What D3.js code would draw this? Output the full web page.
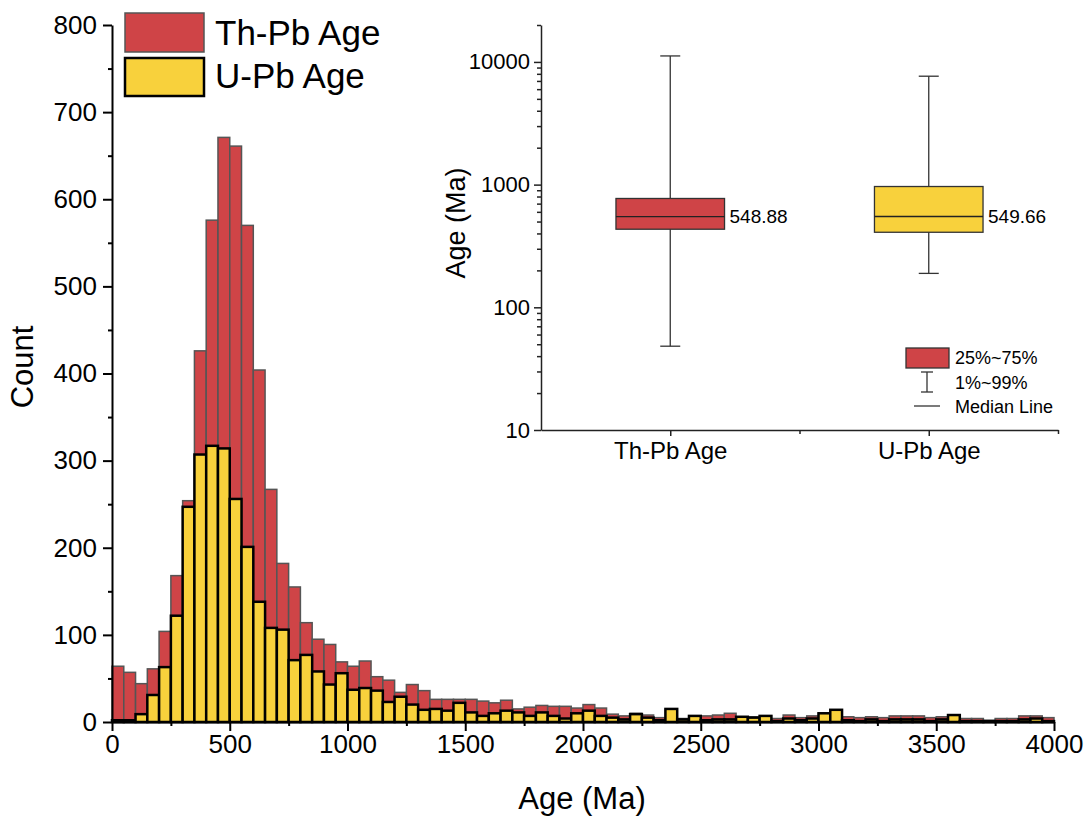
<!DOCTYPE html>
<html>
<head>
<meta charset="utf-8">
<script src="https://cdn.jsdelivr.net/npm/d3@7"></script>
<style>
  body { margin: 0; background: #fff; }
  svg { font-family: Arial, "Liberation Sans", sans-serif; }
</style>
</head>
<body>
<script>
// histogram bins, 50 Ma wide, 0-4000 Ma
var binWidth = 50,
  binStarts = d3.range(0, 4000, binWidth);

var thPbCounts = [
  64, 57, 44, 61, 104, 168, 254, 426, 576, 671, 661, 570, 404, 267, 182, 155, 114, 95, 89, 69,
  64, 70, 52, 48, 34, 43, 36, 26, 26, 26,
  26, 24, 22, 25, 15, 17, 19, 18, 18, 16,
  20, 16, 9, 7, 10, 8, 5, 14, 4, 7,
  7, 8, 10, 6, 6, 7, 4, 8, 5, 7,
  10, 14, 6, 5, 6, 5, 7, 7, 7, 5,
  6, 8, 4, 4, 2, 4, 4, 7, 7, 5
];
var uPbCounts = [
  2, 2, 9, 31, 63, 122, 247, 307, 317, 314, 256, 201, 138, 108, 106, 71, 77, 58, 43, 56,
  37, 39, 36, 23, 29, 20, 14, 15, 13, 22,
  11, 7, 10, 13, 11, 7, 11, 7, 4, 10,
  13, 7, 5, 3, 9, 5, 2, 15, 3, 7,
  2, 3, 3, 6, 5, 7, 1, 4, 2, 4,
  10, 14, 2, 1, 3, 1, 3, 3, 3, 1,
  3, 8, 1, 1, 1, 1, 1, 3, 4, 1
];

// box plot summary
var boxCategories = ["Th-Pb Age", "U-Pb Age"],
  boxQ1 = [433, 409],
  boxQ3 = [771, 965],
  boxMedian = [548.88, 549.66],
  boxP1 = [48.2, 189],
  boxP99 = [11190, 7650];

var mainXTicks = [0, 500, 1000, 1500, 2000, 2500, 3000, 3500, 4000],
  mainYTicks = [0, 100, 200, 300, 400, 500, 600, 700, 800],
  insetYTicks = [10, 100, 1000, 10000];

var RED = "#cf4447", YELLOW = "#f8d13c";

var width = 1090, height = 823,
  svg = d3.select("body").append("svg")
    .attr("width", width)
    .attr("height", height);

var x = d3.scaleLinear().domain([0, 4000]).range([112, 1054]),
  y = d3.scaleLinear().domain([0, 800]).range([722, 25]);

// red bars go under, yellow on top
svg.append("g").selectAll("rect")
  .data(thPbCounts)
  .enter().append("rect")
  .attr("x", function(d, i) { return x(binStarts[i]); })
  .attr("width", function(d, i) { return x(binStarts[i] + binWidth) - x(binStarts[i]); })
  .attr("y", function(d) { return y(d); })
  .attr("height", function(d) { return y(0) - y(d); })
  .attr("fill", RED)
  .attr("stroke", "#555")
  .attr("stroke-width", 1.5);

svg.append("g").selectAll("rect")
  .data(uPbCounts)
  .enter().append("rect")
  .attr("x", function(d, i) { return x(binStarts[i]); })
  .attr("width", function(d, i) { return x(binStarts[i] + binWidth) - x(binStarts[i]); })
  .attr("y", function(d) { return y(d); })
  .attr("height", function(d) { return y(0) - y(d); })
  .attr("fill", YELLOW)
  .attr("stroke", "#000")
  .attr("stroke-width", 2.5);

// main axes
var xAxis = svg.append("g")
  .attr("transform", "translate(0," + y(0) + ")")
  .call(d3.axisBottom(x).tickValues(mainXTicks).tickFormat(d3.format("d"))
    .tickSize(9).tickSizeOuter(0).tickPadding(4));
svg.append("g")
  .attr("transform", "translate(0," + y(0) + ")")
  .call(d3.axisBottom(x).tickValues(d3.range(250, 4000, 500)).tickSize(4).tickFormat(""))
  .select(".domain").remove();

var yAxis = svg.append("g")
  .attr("transform", "translate(" + x(0) + ",0)")
  .call(d3.axisLeft(y).tickValues(mainYTicks).tickSize(9).tickSizeOuter(0).tickPadding(6));
svg.append("g")
  .attr("transform", "translate(" + x(0) + ",0)")
  .call(d3.axisLeft(y).tickValues(d3.range(50, 800, 100)).tickSize(4).tickFormat(""))
  .select(".domain").remove();

svg.selectAll(".domain, .tick line").attr("stroke", "#000").attr("stroke-width", 2);
xAxis.selectAll("text").attr("font-size", 26).attr("fill", "#000");
yAxis.selectAll("text").attr("font-size", 26).attr("fill", "#000");

svg.append("text")
  .attr("x", 582).attr("y", 809)
  .attr("text-anchor", "middle")
  .attr("font-size", 31)
  .text("Age (Ma)");
svg.append("text")
  .attr("transform", "translate(33,367) rotate(-90)")
  .attr("text-anchor", "middle")
  .attr("font-size", 31)
  .text("Count");

// main legend
var legend = svg.append("g");
legend.append("rect").attr("x", 125).attr("y", 13).attr("width", 79).attr("height", 39)
  .attr("fill", RED).attr("stroke", "#555").attr("stroke-width", 1.5);
legend.append("rect").attr("x", 125).attr("y", 58).attr("width", 79).attr("height", 38)
  .attr("fill", YELLOW).attr("stroke", "#000").attr("stroke-width", 2.5);
legend.append("text").attr("x", 215).attr("y", 45).attr("font-size", 35).text("Th-Pb Age");
legend.append("text").attr("x", 215).attr("y", 88).attr("font-size", 35).text("U-Pb Age");

// inset box plot
var bx = d3.scaleLinear().domain([0.5, 2.5]).range([541, 1058]),
  by = d3.scaleLog().domain([10, 20000]).range([430, 25]);
var inset = svg.append("g");

var boxHalf = 0.21;
boxCategories.forEach(function(c, i) {
  var cx = bx(i + 1), capHalf = 10;
  var g = inset.append("g");
  g.append("line")
    .attr("x1", cx).attr("x2", cx)
    .attr("y1", by(boxP1[i])).attr("y2", by(boxP99[i]))
    .attr("stroke", "#333").attr("stroke-width", 1.3);
  [boxP1[i], boxP99[i]].forEach(function(v) {
    g.append("line")
      .attr("x1", cx - capHalf).attr("x2", cx + capHalf)
      .attr("y1", by(v)).attr("y2", by(v))
      .attr("stroke", "#333").attr("stroke-width", 1.3);
  });
  g.append("rect")
    .attr("x", bx(i + 1 - boxHalf))
    .attr("width", bx(i + 1 + boxHalf) - bx(i + 1 - boxHalf))
    .attr("y", by(boxQ3[i]))
    .attr("height", by(boxQ1[i]) - by(boxQ3[i]))
    .attr("fill", i == 0 ? RED : YELLOW)
    .attr("stroke", "#333").attr("stroke-width", 1.3);
  g.append("line")
    .attr("x1", bx(i + 1 - boxHalf)).attr("x2", bx(i + 1 + boxHalf))
    .attr("y1", by(boxMedian[i])).attr("y2", by(boxMedian[i]))
    .attr("stroke", "#222").attr("stroke-width", 1.3);
  g.append("text")
    .attr("x", bx(i + 1 + boxHalf) + 5)
    .attr("y", by(boxMedian[i]))
    .attr("dy", "0.36em")
    .attr("font-size", 19)
    .text(d3.format(".2f")(boxMedian[i]));
});

// inset axes
var minorLog = [];
[10, 100, 1000, 10000].forEach(function(dec) {
  for (var k = 2; k <= 9; k++) if (dec * k <= 20000) minorLog.push(dec * k);
});
var iy = inset.append("g")
  .attr("transform", "translate(" + bx(0.5) + ",0)")
  .call(d3.axisLeft(by).tickValues(insetYTicks).tickFormat(d3.format("d")).tickSize(7).tickSizeOuter(0).tickPadding(4));
inset.append("g")
  .attr("transform", "translate(" + bx(0.5) + ",0)")
  .call(d3.axisLeft(by).tickValues(minorLog).tickFormat("").tickSize(4))
  .select(".domain").remove();
var ix = inset.append("g")
  .attr("transform", "translate(0," + by(10) + ")")
  .call(d3.axisBottom(bx).tickValues([1, 2]).tickFormat(function(d) { return boxCategories[d - 1]; })
    .tickSize(6).tickSizeOuter(0).tickPadding(6));
inset.append("g")
  .attr("transform", "translate(0," + by(10) + ")")
  .call(d3.axisBottom(bx).tickValues([1.5, 2.5]).tickFormat("").tickSize(4))
  .select(".domain").remove();
inset.selectAll(".domain, .tick line").attr("stroke", "#222").attr("stroke-width", 1.5);
iy.selectAll("text").attr("font-size", 22).attr("fill", "#000");
ix.selectAll("text").attr("font-size", 24).attr("fill", "#000");

inset.append("text")
  .attr("transform", "translate(465,223) rotate(-90)")
  .attr("text-anchor", "middle")
  .attr("font-size", 27)
  .text("Age (Ma)");

// inset legend
var il = inset.append("g");
il.append("rect").attr("x", 906).attr("y", 348).attr("width", 43).attr("height", 20)
  .attr("fill", RED).attr("stroke", "#333").attr("stroke-width", 1.3);
il.append("line").attr("x1", 927).attr("x2", 927).attr("y1", 372).attr("y2", 392)
  .attr("stroke", "#333").attr("stroke-width", 1.3);
il.append("line").attr("x1", 921).attr("x2", 933).attr("y1", 372).attr("y2", 372)
  .attr("stroke", "#333").attr("stroke-width", 1.3);
il.append("line").attr("x1", 921).attr("x2", 933).attr("y1", 392).attr("y2", 392)
  .attr("stroke", "#333").attr("stroke-width", 1.3);
il.append("line").attr("x1", 914).attr("x2", 940).attr("y1", 406).attr("y2", 406)
  .attr("stroke", "#333").attr("stroke-width", 1.3);
[["25%~75%", 358], ["1%~99%", 383], ["Median Line", 407]].forEach(function(t) {
  il.append("text").attr("x", 955).attr("y", t[1]).attr("dy", "0.36em")
    .attr("font-size", 18).text(t[0]);
});
</script>
</body>
</html>
